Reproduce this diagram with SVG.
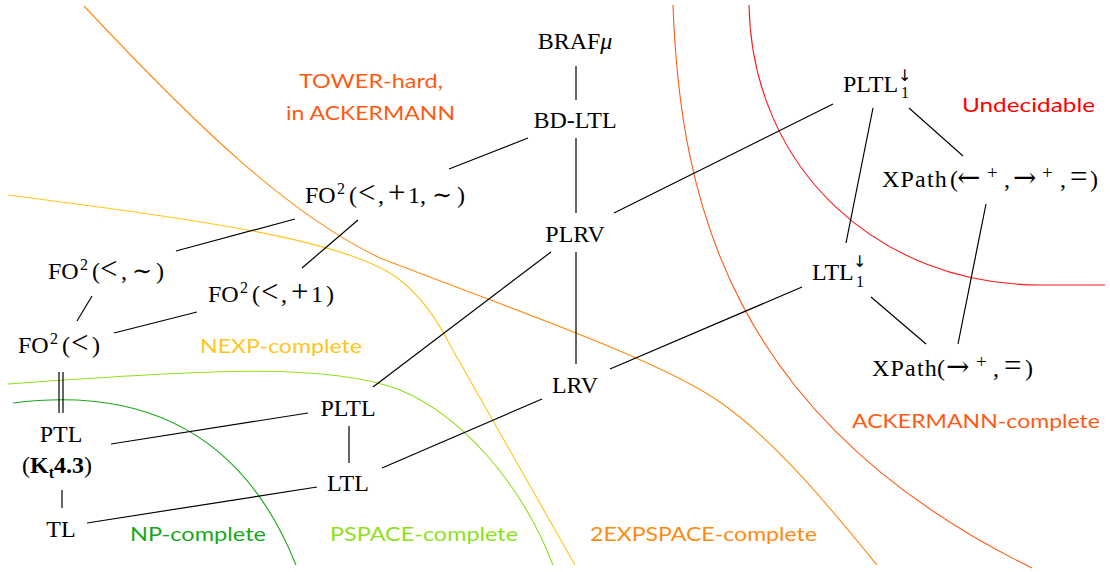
<svg xmlns="http://www.w3.org/2000/svg" width="1110" height="572" viewBox="0 0 1110 572">
<style>
.n{font-family:"Liberation Serif","DejaVu Serif",serif;font-size:24px;fill:#000}
.m{font-family:"DejaVu Serif",serif}
.o{font-size:31px}
.sup{font-size:16px}
.ss{font-family:"DejaVu Sans",sans-serif;font-size:16px}
.sp{font-family:"Liberation Serif",serif;font-size:19px}
.xp{letter-spacing:1.2px}
.lab{font-family:Lato,"Open Sans",sans-serif;font-size:20px}
.e{stroke:#000;stroke-width:1.2;fill:none}
.c{fill:none;stroke-width:1.1}
</style>
<rect width="1110" height="572" fill="#fff"/>
<g id="regions">
<path class="c" stroke="#ff1a1a" d="M749,5 C752,170 880,285 1040,285 L1105,285"/>
<path class="c" stroke="#ff5a14" d="M673,5 C680,200 730,420 1032,568"/>
<path class="c" stroke="#ff8a10" d="M84,6 C200,130 290,215 380,258 C520,312 660,360 720,402 C780,444 840,520 877,565"/>
<path class="c" stroke="#ffc51a" d="M8,195 C200,220 350,240 400,280 C425,300 440,325 450,345 L575,565"/>
<path class="c" stroke="#8ee01a" d="M8,384 C200,370 330,362 400,390 C460,415 520,480 553,565"/>
<path class="c" stroke="#18a818" d="M13,403 C100,392 230,400 296,565"/>
</g>
<g id="region-labels">
<text class="lab" fill="#ff5a14" x="299" y="88" textLength="144" lengthAdjust="spacingAndGlyphs">TOWER-hard,</text>
<text class="lab" fill="#ff5a14" x="286" y="120" textLength="169" lengthAdjust="spacingAndGlyphs">in ACKERMANN</text>
<text class="lab" fill="#ff0000" x="962" y="112" textLength="133" lengthAdjust="spacingAndGlyphs">Undecidable</text>
<text class="lab" fill="#ffc51a" x="200" y="353" textLength="162" lengthAdjust="spacingAndGlyphs">NEXP-complete</text>
<text class="lab" fill="#18a818" x="130" y="541" textLength="136" lengthAdjust="spacingAndGlyphs">NP-complete</text>
<text class="lab" fill="#8ee01a" x="330" y="541" textLength="188" lengthAdjust="spacingAndGlyphs">PSPACE-complete</text>
<text class="lab" fill="#ff8a10" x="590" y="541" textLength="227" lengthAdjust="spacingAndGlyphs">2EXPSPACE-complete</text>
<text class="lab" fill="#ff5a14" x="852" y="428" textLength="248" lengthAdjust="spacingAndGlyphs">ACKERMANN-complete</text>
</g>
<g id="connectors">
<line class="e" x1="576" y1="66" x2="576" y2="100"/>
<line class="e" x1="576" y1="138" x2="576" y2="213"/>
<line class="e" x1="449" y1="169" x2="528" y2="138"/>
<line class="e" x1="614" y1="213" x2="833" y2="104"/>
<line class="e" x1="576" y1="252" x2="576" y2="364"/>
<line class="e" x1="373" y1="387" x2="551" y2="252"/>
<line class="e" x1="610" y1="369" x2="802" y2="287"/>
<line class="e" x1="382" y1="468" x2="542" y2="399"/>
<line class="e" x1="873" y1="108" x2="846" y2="243"/>
<line class="e" x1="909" y1="108" x2="963" y2="156"/>
<line class="e" x1="986" y1="204" x2="958" y2="344"/>
<line class="e" x1="871" y1="297" x2="926" y2="344"/>
<line class="e" x1="295" y1="219" x2="176" y2="251"/>
<line class="e" x1="358" y1="220" x2="302" y2="268"/>
<line class="e" x1="92" y1="296" x2="77" y2="321"/>
<line class="e" x1="197" y1="312" x2="114" y2="333"/>
<line class="e" x1="59" y1="372" x2="59" y2="413"/>
<line class="e" x1="63" y1="372" x2="63" y2="413"/>
<line class="e" x1="62" y1="490" x2="62" y2="508"/>
<line class="e" x1="111" y1="444" x2="308" y2="413"/>
<line class="e" x1="349" y1="426" x2="349" y2="463"/>
<line class="e" x1="87" y1="523" x2="317" y2="487"/>
</g>
<g id="n-brafmu"><text class="n" x="575" y="49" text-anchor="middle">BRAF<tspan font-style="italic">μ</tspan></text></g>
<g id="n-bdltl"><text class="n" x="575" y="128" text-anchor="middle">BD-LTL</text></g>
<g id="n-plrv"><text class="n" x="575" y="242" text-anchor="middle">PLRV</text></g>
<g id="n-lrv"><text class="n" x="575" y="393" text-anchor="middle">LRV</text></g>
<g id="n-fo2-lt-succ-tilde"><text class="n" y="203"><tspan x="305">FO</tspan><tspan class="sup" x="337" y="194">2</tspan><tspan x="349" y="203">(</tspan><tspan class="o" x="358">&lt;</tspan><tspan x="378">,</tspan><tspan class="o" x="388">+</tspan><tspan x="408">1,</tspan><tspan class="m" x="432">∼</tspan><tspan x="457">)</tspan></text></g>
<g id="n-fo2-lt-tilde"><text class="n" y="279"><tspan x="48">FO</tspan><tspan class="sup" x="80" y="270">2</tspan><tspan x="92" y="279">(</tspan><tspan class="o" x="100">&lt;</tspan><tspan x="121">,</tspan><tspan class="m" x="132">∼</tspan><tspan x="156">)</tspan></text></g>
<g id="n-fo2-lt-succ"><text class="n" y="302"><tspan x="208">FO</tspan><tspan class="sup" x="240" y="293">2</tspan><tspan x="252" y="302">(</tspan><tspan class="o" x="261">&lt;</tspan><tspan x="281">,</tspan><tspan class="o" x="291">+</tspan><tspan x="311">1</tspan><tspan x="326">)</tspan></text></g>
<g id="n-fo2-lt"><text class="n" y="353"><tspan x="18">FO</tspan><tspan class="sup" x="50" y="344">2</tspan><tspan x="62" y="353">(</tspan><tspan class="o" x="71">&lt;</tspan><tspan x="92">)</tspan></text></g>
<g id="n-ptl"><text class="n" x="61" y="442" text-anchor="middle">PTL</text>
<text class="n" x="22" y="473">(<tspan font-weight="bold">K</tspan><tspan font-weight="bold" font-size="16" dy="5">t</tspan><tspan font-weight="bold" dy="-5">4.3</tspan>)</text></g>
<g id="n-tl"><text class="n" x="61" y="537" text-anchor="middle">TL</text></g>
<g id="n-pltl"><text class="n" x="348" y="416" text-anchor="middle">PLTL</text></g>
<g id="n-ltl"><text class="n" x="348" y="491" text-anchor="middle">LTL</text></g>
<g id="n-pltl-down"><text class="n" y="92"><tspan x="843">PLTL</tspan><tspan class="ss" x="898" y="81">↓</tspan><tspan class="sup" x="901" y="98">1</tspan></text></g>
<g id="n-ltl-down"><text class="n" y="280"><tspan x="812">LTL</tspan><tspan class="ss" x="853" y="267">↓</tspan><tspan class="sup" x="856" y="287">1</tspan></text></g>
<g id="n-xpath-both"><text class="n" y="187"><tspan class="xp" x="882">XPath</tspan><tspan x="950">(</tspan><tspan class="m" font-size="28" x="957">←</tspan><tspan class="sp" x="987" y="179">+</tspan><tspan x="1004" y="187">,</tspan><tspan class="m" font-size="28" x="1013">→</tspan><tspan class="sp" x="1042" y="179">+</tspan><tspan x="1060" y="187">,</tspan><tspan class="o" x="1070">=</tspan><tspan x="1090">)</tspan></text></g>
<g id="n-xpath-right"><text class="n" y="376"><tspan class="xp" x="872">XPath</tspan><tspan x="937">(</tspan><tspan class="m" font-size="28" x="946">→</tspan><tspan class="sp" x="976" y="368">+</tspan><tspan x="993" y="376">,</tspan><tspan class="o" x="1004">=</tspan><tspan x="1025">)</tspan></text></g>
</svg>
